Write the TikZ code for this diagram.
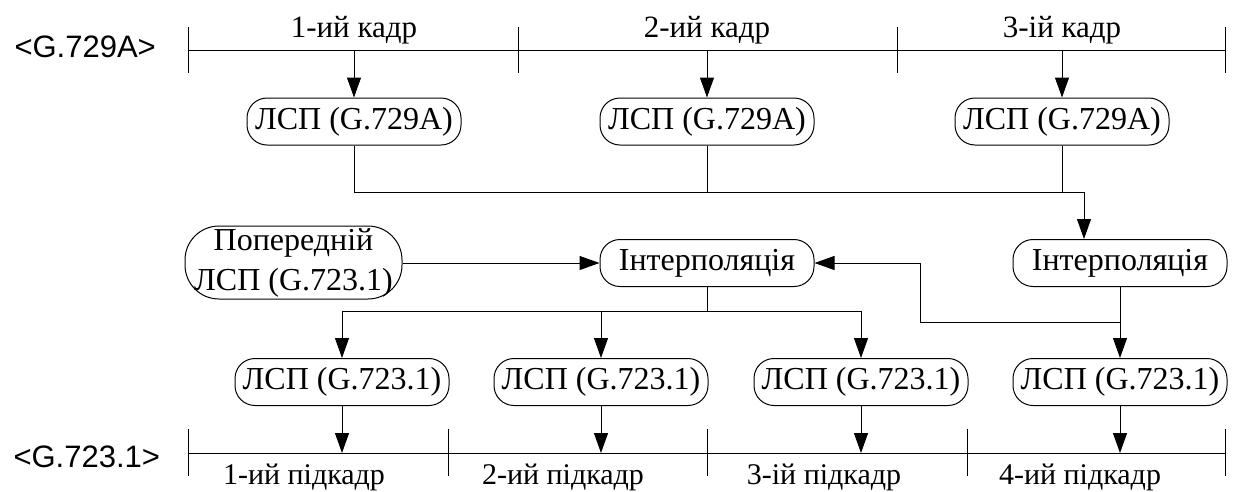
\documentclass[tikz,border=0pt]{standalone}
\usepackage{fontspec}
\setmainfont{Liberation Serif}
\newfontfamily\labelsans{Liberation Sans}
\usetikzlibrary{arrows.meta}
\begin{document}
\begin{tikzpicture}[x=1pt,y=-1pt,
  line width=1pt,
  arr/.style={-{Triangle[length=20pt,width=14pt]}},
  lspbox/.style={draw, rounded corners=20pt, minimum width=214pt,
    minimum height=47pt, inner sep=0pt, font=\fontsize{32}{38}\selectfont},
  prevbox/.style={draw, rounded corners=34pt, minimum width=217pt,
    minimum height=73pt, inner sep=0pt, align=center,
    font=\fontsize{32}{40}\selectfont},
  framelbl/.style={anchor=base, inner sep=0pt, font=\fontsize{31}{36}\selectfont},
  sublbl/.style={anchor=base, inner sep=0pt, font=\fontsize{30}{36}\selectfont},
  codec/.style={anchor=west, inner sep=0pt, font=\labelsans\fontsize{31}{36}\selectfont},
  tick/.style={line width=1pt}]
\useasboundingbox (0,0) rectangle (1235,491);

% ---- G.729A frame axis ----
\node[codec] (c1) at (14,47) {<G.729A>};
\coordinate (ta0) at (188,50);
\coordinate (ta3) at (1225,50);
\draw (ta0) -- (ta3);
\foreach \x in {188,518,897,1225} \draw[tick] (\x,27) -- (\x,73);
\node[framelbl] (f1) at (354,37) {1-ий кадр};
\node[framelbl] (f2) at (707,37) {2-ий кадр};
\node[framelbl] (f3) at (1062,37) {3-ій кадр};

% ---- LSP of the G.729A frames ----
\node[lspbox] (a1) at (354,121.5) {ЛСП (G.729A)};
\node[lspbox] (a2) at (707,121.5) {ЛСП (G.729A)};
\node[lspbox] (a3) at (1062,121.5) {ЛСП (G.729A)};
\foreach \n in {a1,a2,a3} \draw[arr] (\n.north |- ta0) -- (\n.north);

% ---- interpolation stage ----
\node[prevbox] (p) at (293.5,262.5) {\raisebox{-3pt}{Попередній}\\\raisebox{-3pt}{ЛСП (G.723.1)}};
\node[lspbox] (i1) at (707,263) {Інтерполяція};
\node[lspbox] (i2) at (1120,263) {Інтерполяція};

\coordinate (j1) at (1084,192);
\draw[arr] (a1.south) |- (j1) -- (i2.north -| j1);
\draw (a2.south) -- (a2.south |- j1);
\draw (a3.south) -- (a3.south |- j1);

\draw[arr] (p.east |- i1.west) -- (i1.west);

% ---- LSP of the G.723.1 subframes ----
\node[lspbox] (b1) at (342,382) {ЛСП (G.723.1)};
\node[lspbox] (b2) at (601,382) {ЛСП (G.723.1)};
\node[lspbox] (b3) at (861,382) {ЛСП (G.723.1)};
\node[lspbox] (b4) at (1120,382) {ЛСП (G.723.1)};

\coordinate (j3) at (707,311);
\draw (i1.south) -- (j3);
\draw[arr] (j3) -| (b1.north);
\draw[arr] (j3) -| (b2.north);
\draw[arr] (j3) -| (b3.north);

\coordinate (j2) at (1120,322);
\coordinate (k) at (920,322);
\draw[arr] (i2.south) -- (b4.north);
\draw[arr] (j2) -- (k) |- (i1.east);

% ---- G.723.1 subframe axis ----
\node[codec] (c2) at (13,457) {<G.723.1>};
\coordinate (tb0) at (188,453);
\coordinate (tb4) at (1225,453);
\draw (tb0) -- (tb4);
\foreach \x in {188,448,707,967,1225} \draw[tick] (\x,429) -- (\x,476);
\foreach \n in {b1,b2,b3,b4} \draw[arr] (\n.south) -- (\n.south |- tb0);
\node[sublbl] (s1) at (304,484) {1-ий підкадр};
\node[sublbl] (s2) at (563,484) {2-ий підкадр};
\node[sublbl] (s3) at (824,484) {3-ій підкадр};
\node[sublbl] (s4) at (1080,484) {4-ий підкадр};
\end{tikzpicture}
\end{document}
